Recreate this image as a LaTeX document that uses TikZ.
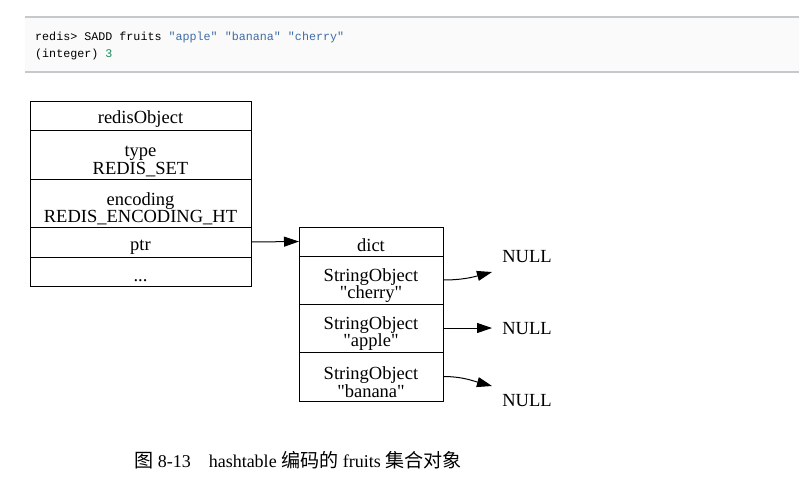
\documentclass[tikz,border=0pt]{standalone}
\usepackage{fontspec}
\setmainfont{Liberation Serif}[Ligatures=TeXOff]
\setmonofont{Liberation Mono}
\newfontfamily\cjk[Scale=1.06]{Noto Sans CJK SC}
\usetikzlibrary{positioning,arrows.meta}
\definecolor{codebg}{HTML}{FAFAFA}
\definecolor{coderule}{HTML}{C6C9CC}
\definecolor{strblue}{HTML}{3F6EA6}
\definecolor{numgreen}{HTML}{1E8A5C}
\newcommand{\gvfont}{\fontsize{18.5pt}{17.5pt}\selectfont}
\newcommand{\oneline}[1]{\rule{0pt}{20pt}#1}
\newcommand{\twolines}[2]{\rule{0pt}{24pt}#1\\#2}

\begin{document}
\begin{tikzpicture}[x=1pt,y=-1pt,
    field/.style={draw,line width=1pt,inner sep=0pt,outer sep=0pt,align=center,font=\gvfont},
    objfield/.style={field,minimum width=221pt},
    dictfield/.style={field,minimum width=144pt},
    link/.style={line width=1pt,-{Triangle[length=15pt,width=10pt]}},
    code/.style={anchor=base west,inner sep=0pt,font=\ttfamily\fontsize{11.7pt}{14pt}\selectfont}]
  \useasboundingbox (0,0) rectangle (799,501);

  \fill[codebg] (25,17) rectangle (799,73);
  \draw[coderule,line width=2pt] (25,17) -- (799,17);
  \draw[coderule,line width=2pt] (25,72) -- (799,72);
  \node[code] (cmd) at (35,40) {redis> SADD fruits \textcolor{strblue}{"apple"}
    \textcolor{strblue}{"banana"} \textcolor{strblue}{"cherry"}};
  \node[code] (reply) at (35,57) {(integer) \textcolor{numgreen}{3}};

  \node[objfield,minimum height=29pt] (obj) at (140.5,115.5) {\oneline{redisObject}};
  \node[objfield,minimum height=49pt,below=0pt of obj] (type) {\twolines{type}{REDIS\_SET}};
  \node[objfield,minimum height=48pt,below=0pt of type] (enc)
    {\twolines{encoding}{REDIS\_ENCODING\_HT}};
  \node[objfield,minimum height=30pt,below=0pt of enc] (ptr) {\oneline{ptr}};
  \node[objfield,minimum height=29pt,below=0pt of ptr] (rest) {\oneline{...}};

  \node[dictfield,minimum height=29pt] (dict) at (371,241.5) {\oneline{dict}};
  \node[dictfield,minimum height=48pt,below=0pt of dict] (cherry)
    {\twolines{StringObject}{"cherry"}};
  \node[dictfield,minimum height=48pt,below=0pt of cherry] (apple)
    {\twolines{StringObject}{"apple"}};
  \node[dictfield,minimum height=49pt,below=0pt of apple] (banana)
    {\twolines{StringObject}{"banana"}};

  \node[font=\gvfont,inner sep=0pt] (null1) at (527,257) {NULL};
  \node[font=\gvfont,inner sep=0pt] (null2) at (527,329) {NULL};
  \node[font=\gvfont,inner sep=0pt] (null3) at (527,401) {NULL};
  \coordinate (tip1) at (492,272);
  \coordinate (tip2) at (492,328);
  \coordinate (tip3) at (492,386);

  \draw[link] (ptr.east) -- (dict.west);
  \draw[link] (cherry.east) to[out=0,in=195] (tip1);
  \draw[link] (apple.east) -- (tip2);
  \draw[link] (banana.east) to[out=0,in=165] (tip3);

  \node[anchor=base west,inner sep=0pt,font=\fontsize{18pt}{20pt}\selectfont] (caption)
    at (134,467) {{\cjk 图} 8-13\quad hashtable {\cjk 编码的} fruits {\cjk 集合对象}};
\end{tikzpicture}
\end{document}
